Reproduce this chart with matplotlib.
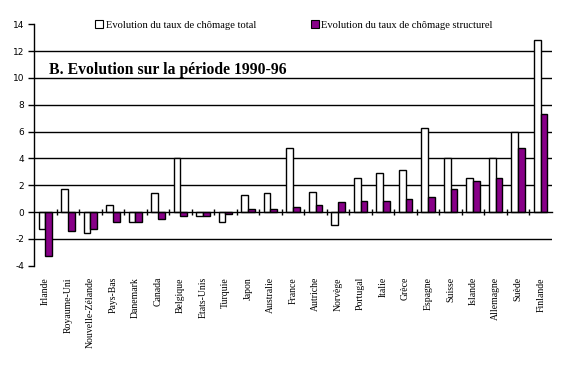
import matplotlib
matplotlib.use("Agg")
import matplotlib.pyplot as plt
from matplotlib.patches import Patch
import numpy as np

countries = ["Irlande", "Royaume-Uni", "Nouvelle-Zélande", "Pays-Bas", "Danemark",
             "Canada", "Belgique", "Etats-Unis", "Turquie", "Japon", "Australie",
             "France", "Autriche", "Norvège", "Portugal", "Italie", "Grèce",
             "Espagne", "Suisse", "Islande", "Allemagne", "Suède", "Finlande"]
total = [-1.25, 1.72, -1.57, 0.52, -0.75, 1.42, 4.0, -0.3, -0.75, 1.27, 1.42,
         4.78, 1.49, -0.97, 2.54, 2.91, 3.13, 6.27, 4.0, 2.54, 4.0, 6.0, 12.83]
structurel = [-3.3, -1.42, -1.25, -0.75, -0.75, -0.52, -0.3, -0.3, -0.15, 0.22, 0.22,
              0.37, 0.52, 0.75, 0.82, 0.82, 0.97, 1.12, 1.72, 2.31, 2.54, 4.78, 7.31]
yticks = [-4, -2, 0, 2, 4, 6, 8, 10, 12, 14]

label_total = "Evolution du taux de chômage total"
label_struct = "Evolution du taux de chômage structurel"
title = "B. Evolution sur la période 1990-96"

purple = "#880088"
serif = ["Liberation Serif", "DejaVu Serif"]

fig = plt.figure(figsize=(5.72, 3.66), dpi=100)
W, H = 572, 366
ax = fig.add_axes([34 / W, (H - 265.7) / H, (552 - 34) / W, (265.7 - 24.3) / H])

x = np.arange(len(countries))
bw = 0.3
ax.bar(x - bw / 2, total, bw, color="white", edgecolor="black", linewidth=1.0, zorder=3)
ax.bar(x + bw / 2, structurel, bw, color=purple, edgecolor="black", linewidth=1.0, zorder=3)

ax.set_xlim(-0.5, len(countries) - 0.5)
ax.set_ylim(-4, 14)
for v in yticks:
    if v not in (-4, 0, 14):
        ax.axhline(v, color="black", linewidth=1.0, zorder=1)

for s in ["top", "right"]:
    ax.spines[s].set_visible(False)
ax.spines["bottom"].set_position(("data", 0))
ax.spines["bottom"].set_linewidth(1.0)
ax.spines["bottom"].set_zorder(4)
ax.spines["left"].set_linewidth(1.0)

ax.set_yticks(yticks)
ax.set_yticklabels([str(v) for v in yticks], fontsize=6.5, family="DejaVu Sans")
ax.tick_params(axis="y", direction="out", length=4, width=1.0, pad=3)
ax.set_xticks(np.arange(len(countries) - 1) + 0.5)
ax.set_xticklabels([])
ax.tick_params(axis="x", direction="inout", length=5, width=1.0)

for i, c in enumerate(countries):
    ax.text(i, -4.85, c, rotation=90, ha="center", va="top", fontsize=7,
            family=serif, clip_on=False)

fig.text(49 / W, 1 - 74 / H, title, fontsize=11.3,
         fontweight="bold", family=serif, va="baseline", ha="left")

handles = [Patch(facecolor="white", edgecolor="black", linewidth=0.8),
           Patch(facecolor=purple, edgecolor="black", linewidth=0.8)]
leg = fig.legend(handles, [label_total, label_struct], ncol=2, frameon=False,
                 loc="center left", bbox_to_anchor=(95 / W, 1 - 25 / H),
                 prop={"family": serif, "size": 7.6}, handlelength=0.8,
                 handleheight=0.8, handletextpad=0.2, columnspacing=5.2,
                 borderaxespad=0, borderpad=0)

fig.savefig("out.png", dpi=100)
